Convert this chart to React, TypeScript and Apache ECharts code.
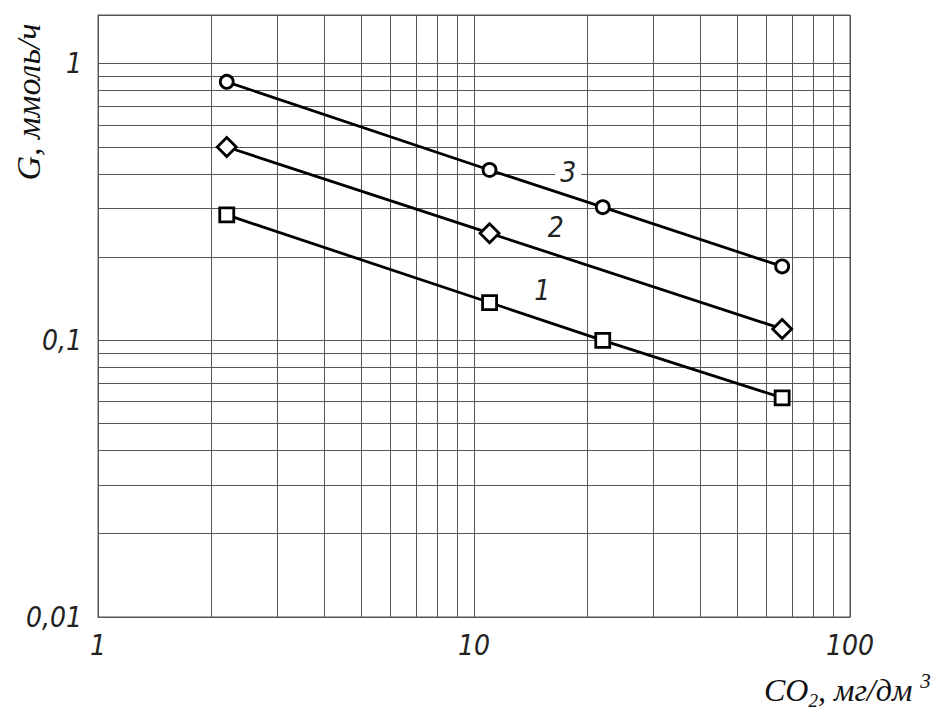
import React, { useEffect, useRef } from "react";
import * as echarts from "echarts";

// ---- data ----
const xValues1 = [2.2, 11, 22, 66];
const yValues1 = [0.284, 0.137, 0.1, 0.062];
const xValues2 = [2.2, 11, 66];
const yValues2 = [0.5, 0.244, 0.11];
const xValues3 = [2.2, 11, 22, 66];
const yValues3 = [0.86, 0.413, 0.303, 0.185];

const curveLabels = ["1", "2", "3"];
const curveLabelX = [15.2, 16.5, 17.8];
const curveLabelY = [0.151, 0.255, 0.406];

const xMinorGrid = [2, 3, 4, 5, 6, 7, 8, 9, 20, 30, 40, 50, 60, 70, 80, 90];
const yMinorGrid = [0.02, 0.03, 0.04, 0.05, 0.06, 0.07, 0.08, 0.09, 0.2, 0.3, 0.4, 0.5, 0.6, 0.7, 0.8, 0.9];

const xMin = 1;
const xMax = 100;
const yMin = 0.01;
const yMax = 1.5;

const yTitle = "G, ммоль/ч";
const xTitleMain = "CO";
const xTitleSub = "2";
const xTitleUnit = ", мг/дм ";
const xTitleSup = "3";

const NARROW = "'Liberation Sans Narrow', 'DejaVu Sans Condensed', 'Liberation Sans', sans-serif";
const SERIF = "'Liberation Serif', 'DejaVu Serif', serif";
const GRID_COLOR = "#555";

const zip = (xs: number[], ys: number[]) => xs.map((x, i) => [x, ys[i]]);
const fmt = (v: number) => String(parseFloat(Number(v).toPrecision(6))).replace(".", ",");

export default function App() {
  const ref = useRef<HTMLDivElement>(null);

  useEffect(() => {
    if (!ref.current) return;
    const chart = echarts.init(ref.current, null, { renderer: "svg" });

    const markerStyle = { color: "#fff", borderColor: "#000", borderWidth: 2.8 };
    const lineStyle = { color: "#000", width: 2.8 };

    const labelSeriesPoint = (i: number, extra: any = {}) => ({
      coord: [curveLabelX[i], curveLabelY[i]],
      symbol: "circle",
      symbolSize: 1,
      itemStyle: { color: "rgba(0,0,0,0)" },
      label: {
        show: true,
        position: "inside",
        formatter: curveLabels[i],
        fontFamily: NARROW,
        fontStyle: "italic",
        fontSize: 28,
        color: "#222",
        ...extra,
      },
    });

    chart.setOption({
      animation: false,
      backgroundColor: "#fff",
      grid: {
        left: 98,
        right: 97,
        top: 15,
        bottom: 104,
        show: true,
        borderColor: GRID_COLOR,
        borderWidth: 1,
        backgroundColor: "transparent",
      },
      xAxis: {
        type: "log",
        logBase: 10,
        min: xMin,
        max: xMax,
        axisLine: { show: true, lineStyle: { color: GRID_COLOR, width: 1 } },
        axisTick: { show: false },
        splitLine: { show: true, lineStyle: { color: GRID_COLOR, width: 1 } },
        axisLabel: {
          formatter: (v: number) => fmt(v),
          fontFamily: NARROW,
          fontStyle: "italic",
          fontSize: 28,
          color: "#222",
          margin: 14,
        },
      },
      yAxis: {
        type: "log",
        logBase: 10,
        min: yMin,
        max: yMax,
        axisLine: { show: true, lineStyle: { color: GRID_COLOR, width: 1 } },
        axisTick: { show: false },
        splitLine: { show: true, lineStyle: { color: GRID_COLOR, width: 1 } },
        axisLabel: {
          formatter: (v: number) => fmt(v),
          showMaxLabel: false,
          fontFamily: NARROW,
          fontStyle: "italic",
          fontSize: 28,
          color: "#222",
          margin: 16,
        },
      },
      graphic: [
        {
          type: "text",
          x: 28,
          y: 102,
          rotation: Math.PI / 2,
          style: {
            text: yTitle,
            font: `italic 34px ${SERIF}`,
            fill: "#111",
            align: "center",
            verticalAlign: "middle",
            textAlign: "center",
            textVerticalAlign: "middle",
          },
        },
        {
          type: "text",
          x: 764,
          y: 690,
          style: {
            text: `{n|${xTitleMain}}{s|${xTitleSub}}{n|${xTitleUnit}}{p|${xTitleSup}}`,
            fill: "#111",
            align: "left",
            verticalAlign: "middle",
            textAlign: "left",
            textVerticalAlign: "middle",
            rich: {
              n: { fontFamily: SERIF, fontStyle: "italic", fontSize: 32, lineHeight: 40, color: "#111" },
              s: { fontFamily: SERIF, fontStyle: "italic", fontSize: 19, lineHeight: 15, verticalAlign: "bottom", color: "#111" },
              p: { fontFamily: SERIF, fontStyle: "italic", fontSize: 21, lineHeight: 18, verticalAlign: "top", color: "#111" },
            },
          },
        },
      ],
      series: [
        {
          name: "grid",
          type: "line",
          data: [],
          z: 1,
          silent: true,
          markLine: {
            silent: true,
            symbol: ["none", "none"],
            label: { show: false },
            lineStyle: { color: GRID_COLOR, width: 1, type: "solid" },
            emphasis: { disabled: true },
            data: [
              ...xMinorGrid.map((v) => ({ xAxis: v })),
              ...yMinorGrid.map((v) => ({ yAxis: v })),
            ],
          },
        },
        {
          name: "1",
          type: "line",
          z: 5,
          data: zip(xValues1, yValues1),
          symbol: "rect",
          symbolSize: 14,
          itemStyle: markerStyle,
          lineStyle,
          markPoint: { data: [labelSeriesPoint(0)] },
        },
        {
          name: "2",
          type: "line",
          z: 5,
          data: zip(xValues2, yValues2),
          symbol: "diamond",
          symbolSize: 19,
          itemStyle: markerStyle,
          lineStyle,
          markPoint: { data: [labelSeriesPoint(1)] },
        },
        {
          name: "3",
          type: "line",
          z: 5,
          data: zip(xValues3, yValues3),
          symbol: "circle",
          symbolSize: 13,
          itemStyle: markerStyle,
          lineStyle,
          markPoint: {
            data: [labelSeriesPoint(2, { backgroundColor: "#fff", padding: [0, 5] })],
          },
        },
      ],
    });

    return () => chart.dispose();
  }, []);

  return <div ref={ref} style={{ width: 947, height: 721, margin: -8 }} />;
}
